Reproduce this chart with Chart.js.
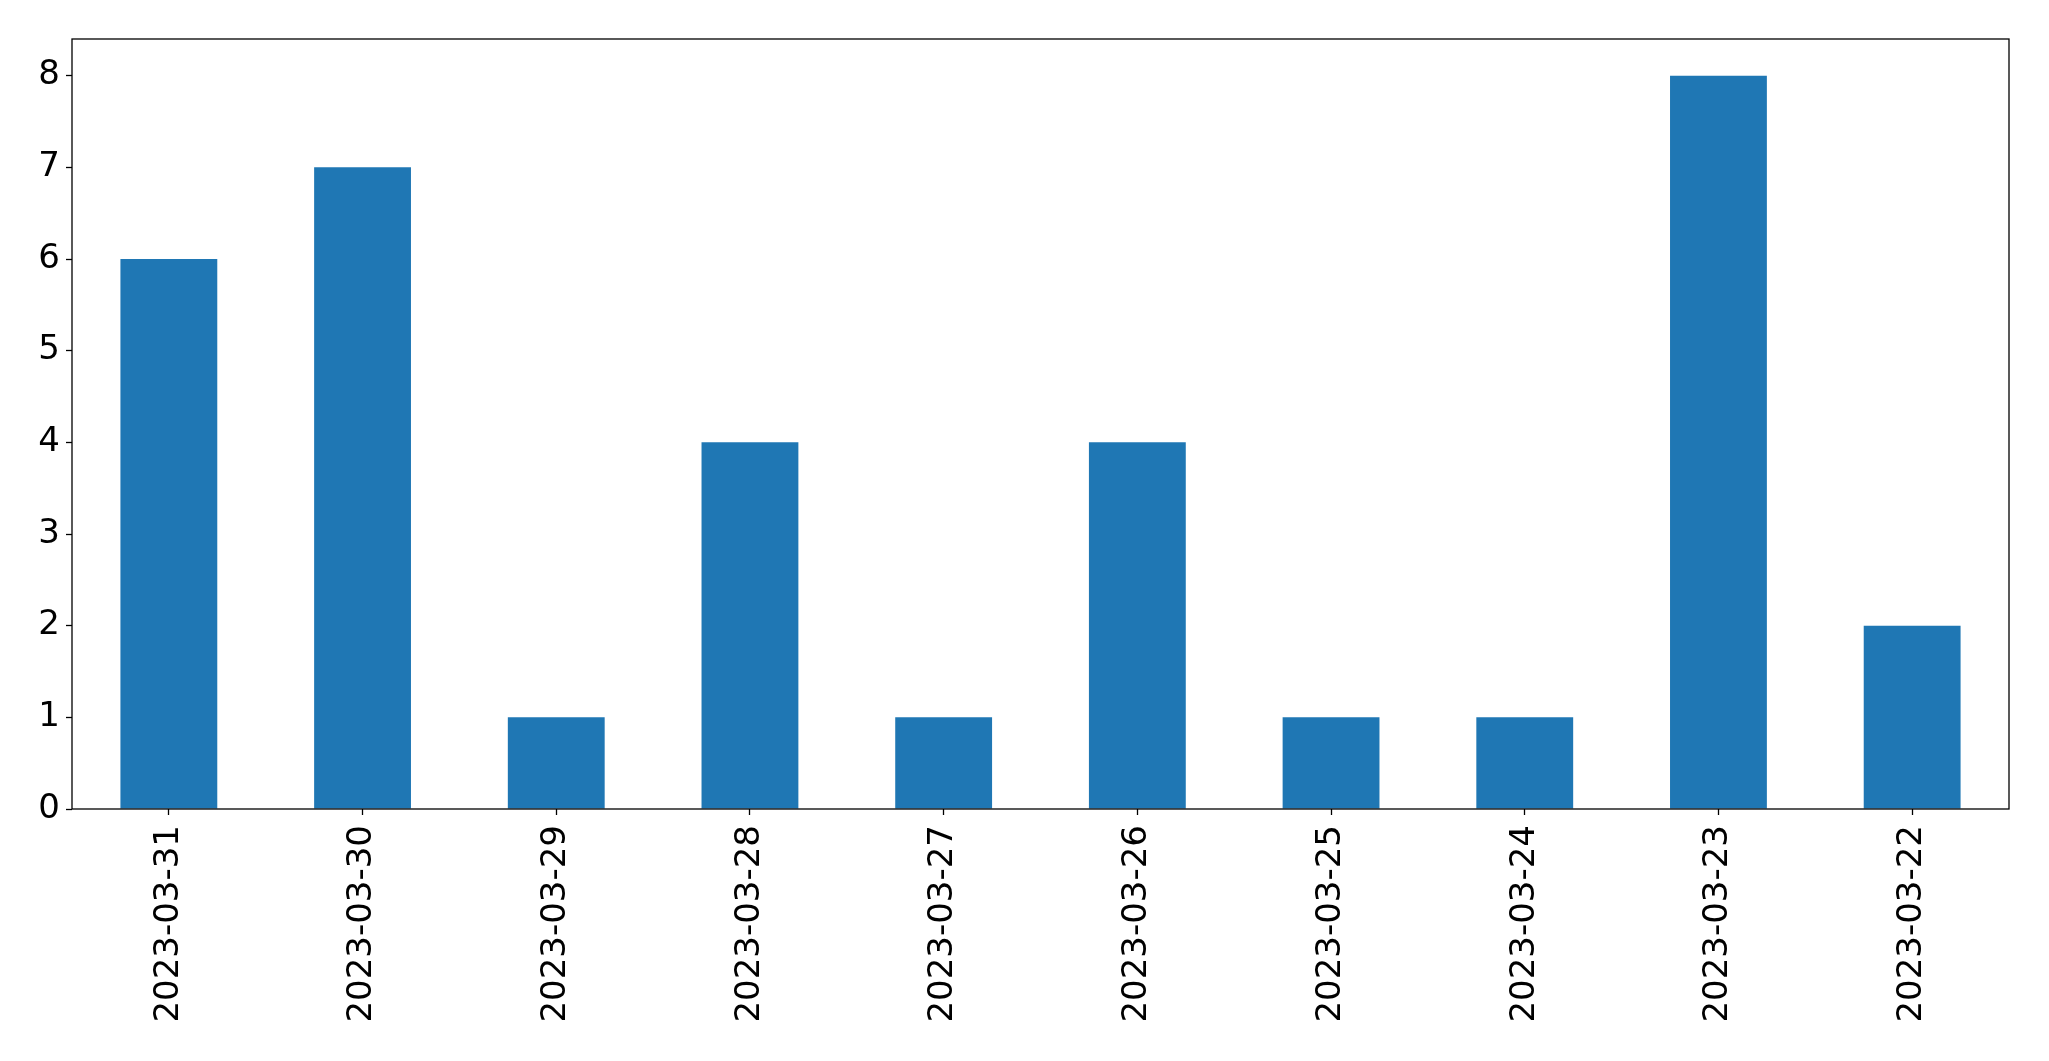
<!DOCTYPE html>
<html lang="en">
<head>
  <meta charset="UTF-8" />
  <title>Counts per day</title>
  <script src="https://cdn.jsdelivr.net/npm/chart.js@4"></script>
  <style>
    html, body { margin: 0; padding: 0; background: #fff; }
    #wrap { width: 2049px; height: 1061px; }
  </style>
</head>
<body>
  <div id="wrap"><canvas id="barChart" width="2049" height="1061"></canvas></div>

  <script>
    const dates = ['2023-03-31', '2023-03-30', '2023-03-29', '2023-03-28', '2023-03-27',
                   '2023-03-26', '2023-03-25', '2023-03-24', '2023-03-23', '2023-03-22'];
    const counts = [6, 7, 1, 4, 1, 4, 1, 1, 8, 2];
    const yTicks = [0, 1, 2, 3, 4, 5, 6, 7, 8];

    // frame round the plot area, like matplotlib's spines
    const frame = {
      id: 'frame',
      afterDraw(chart) {
        const { ctx, chartArea: a } = chart;
        ctx.save();
        ctx.strokeStyle = '#000';
        ctx.lineWidth = 1.3;
        ctx.strokeRect(a.left, a.top, a.right - a.left, a.bottom - a.top);
        ctx.restore();
      }
    };

    Chart.defaults.font.family = 'DejaVu Sans';
    Chart.defaults.color = '#000';

    new Chart(document.getElementById('barChart'), {
      type: 'bar',
      data: {
        labels: dates,
        datasets: [{
          data: counts,
          backgroundColor: '#1f77b4',
          barPercentage: 0.5,
          categoryPercentage: 1.0
        }]
      },
      options: {
        responsive: false,
        animation: false,
        layout: { padding: { top: 39, right: 40, left: 0, bottom: 0 } },
        plugins: { legend: { display: false }, tooltip: { enabled: false } },
        scales: {
          x: {
            grid: { display: true, drawOnChartArea: false, offset: false, tickLength: 6, color: '#000', tickWidth: 1.3 },
            border: { display: false },
            ticks: { font: { size: 34 }, minRotation: 90, maxRotation: 90, padding: 10, autoSkip: false },
            afterFit(s) { s.height = 252; }
          },
          y: {
            min: 0,
            max: 8.4,
            grid: { display: true, drawOnChartArea: false, tickLength: 6, color: '#000', tickWidth: 1.3 },
            border: { display: false },
            ticks: { font: { size: 34 }, stepSize: 1, includeBounds: false, padding: 6 },
            afterBuildTicks(s) { s.ticks = yTicks.map(v => ({ value: v })); },
            afterFit(s) { s.width = 72; }
          }
        }
      },
      plugins: [frame]
    });
  </script>
</body>
</html>
